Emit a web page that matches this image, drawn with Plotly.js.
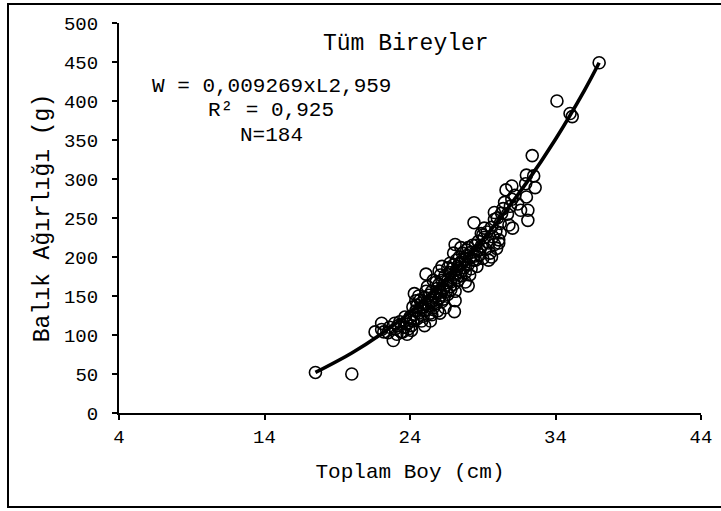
<!DOCTYPE html>
<html>
<head>
<meta charset="utf-8">
<script src="https://cdn.plot.ly/plotly-3.0.1.min.js"></script>
<style>html,body{margin:0;padding:0;background:#fff;}</style>
</head>
<body>
<div id="chart" style="width:721px;height:511px;"></div>
<script>
// Observed fish: total length (cm) and weight (g)
var lengthCm = [
17.5,20.0,37.0,34.1,35.0,35.15,32.4,32.0,32.5,32.6,31.95,30.6,31.0,32.0,30.5,31.0,31.6,32.1,32.1,31.05,
29.8,29.8,30.2,28.4,29.1,29.0,30.1,29.95,30.1,29.6,28.8,28.5,27.1,27.0,27.9,28.35,27.4,26.75,26.6,26.1,
25.1,25.8,28.0,27.2,26.75,26.5,27.1,26.1,25.1,24.3,24.7,25.4,26.2,27.1,27.05,26.05,25.5,25.0,24.2,24.0,
23.65,22.95,22.05,21.6,22.2,22.85,23.4,24.1,22.05,23.5,24.0,23.0,23.2,23.3,23.6,23.8,23.9,24.1,24.2,24.3,
24.4,24.5,24.5,24.6,24.7,24.8,24.9,24.9,25.0,25.0,25.1,25.2,25.3,25.3,25.4,25.5,25.5,25.6,25.7,25.8,
25.8,25.9,26.0,26.0,26.1,26.2,26.3,26.3,26.4,26.5,26.6,26.6,26.7,26.8,26.8,26.9,26.9,27.0,27.0,27.1,
27.2,27.2,27.3,27.3,27.4,27.5,27.5,27.6,27.6,27.7,27.8,27.8,27.9,28.0,28.0,28.1,28.2,28.2,28.3,28.4,
28.5,28.6,28.7,28.8,28.9,29.0,29.1,29.2,29.3,29.4,29.5,29.6,29.7,29.9,30.0,30.2,30.3,30.4,30.7,30.9,
31.2,31.4,26.2,25.6,25.2,24.6,27.8,28.6,26.4,25.9,24.8,23.8,23.1,22.6,29.4,28.9,27.5,26.0,24.4,25.4,
22.5,28.1,29.8,30.8
];
var weightG = [
52,50,449,400,384,380,330,305,304,289,294,286,291,277,270,274,260,260,247,237,
257,248,243,244,237,228,222,211,218,200,209,215,216,205,209,196,192,192,186,177,
178,168,163,173,162,156,156,155,156,153,145,145,143,144,130,128,126,112,136,123,
123,115,115,104,104,93,104,106,107,104,119,108,112,117,110,114,108,112,118,126,
131,121,138,128,134,141,124,136,131,148,140,133,151,138,128,142,156,135,148,153,
140,160,147,165,151,170,159,146,176,164,152,170,180,168,158,185,174,165,190,178,
183,196,170,188,200,181,176,193,205,186,197,180,202,190,212,199,185,206,215,201,
196,208,220,203,214,198,225,210,232,218,205,238,226,233,250,231,256,262,255,265,
279,268,188,170,162,150,168,188,135,131,118,101,101,110,196,230,212,182,144,118,
103,177,216,241
];
// Power trend line
var trendL = [17.5,20,22,24,26,28,30,32,34,36,37];
var trendW = [52,77,101,129,163,201,245,295,351,414,449];

var xTicks = [4,14,24,34,44];
var yTicks = [0,50,100,150,200,250,300,350,400,450,500];

var titleText = "Tüm Bireyler";
var eqLines = ["W = 0,009269xL2,959","R² = 0,925","N=184"];

// layout pixel geometry
var W = 721, H = 511;
var L = 119, R = 701, T = 23, B = 413;
function px(x){ return (x - L) / (R - L); }
function py(y){ return (B - y) / (B - T); }

var FONT = "Liberation Mono";

var traces = [
  {
    x: lengthCm, y: weightG, type: "scatter", mode: "markers",
    marker: {symbol: "circle-open", size: 12, color: "#000", line: {color: "#000", width: 1.6}},
    hoverinfo: "x+y", showlegend: false
  },
  {
    x: trendL, y: trendW, type: "scatter", mode: "lines",
    line: {color: "#000", width: 3.6, shape: "spline", smoothing: 1},
    hoverinfo: "skip", showlegend: false
  }
];

var eqX = [271, 271, 271];
var eqY = [87, 111, 135];
var annotations = [{
  text: titleText, xref: "paper", yref: "paper", x: px(406), y: py(44),
  xanchor: "center", yanchor: "middle", showarrow: false,
  font: {family: FONT, size: 23, color: "#000"}
}];
for (var i = 0; i < eqLines.length; i++) {
  annotations.push({
    text: eqLines[i], xref: "paper", yref: "paper", x: px(eqX[i]), y: py(eqY[i]),
    xanchor: "center", yanchor: "middle", showarrow: false,
    font: {family: FONT, size: 21, color: "#000"}
  });
}

var layout = {
  width: W, height: H,
  margin: {l: L, r: W - R, t: T, b: H - B, pad: 0},
  paper_bgcolor: "#fff", plot_bgcolor: "#fff",
  font: {family: FONT, size: 19, color: "#000"},
  xaxis: {
    range: [4, 44], tickvals: xTicks, ticktext: xTicks.map(String),
    showgrid: false, zeroline: false, showline: true, linecolor: "#000", linewidth: 2,
    ticks: "outside", ticklen: 5, tickwidth: 2, tickcolor: "#000",
    tickfont: {family: FONT, size: 19}, ticklabelstandoff: 0,
    title: {text: "Toplam Boy (cm)", font: {family: FONT, size: 21}, standoff: 16}
  },
  yaxis: {
    range: [0, 500], tickvals: yTicks, ticktext: yTicks.map(String),
    showgrid: false, zeroline: false, showline: true, linecolor: "#000", linewidth: 2,
    ticks: "outside", ticklen: 5, tickwidth: 2, tickcolor: "#000",
    tickfont: {family: FONT, size: 19}, ticklabelstandoff: 10,
    title: {text: "Balık Ağırlığı (g)", font: {family: FONT, size: 23}, standoff: 8}
  },
  shapes: [{
    type: "rect", xref: "paper", yref: "paper",
    x0: px(8), x1: px(722), y0: py(507), y1: py(4),
    line: {color: "#000", width: 2}, fillcolor: "rgba(0,0,0,0)", layer: "above"
  }],
  annotations: annotations
};

Plotly.newPlot("chart", traces, layout, {displayModeBar: false, staticPlot: true});
</script>
</body>
</html>
